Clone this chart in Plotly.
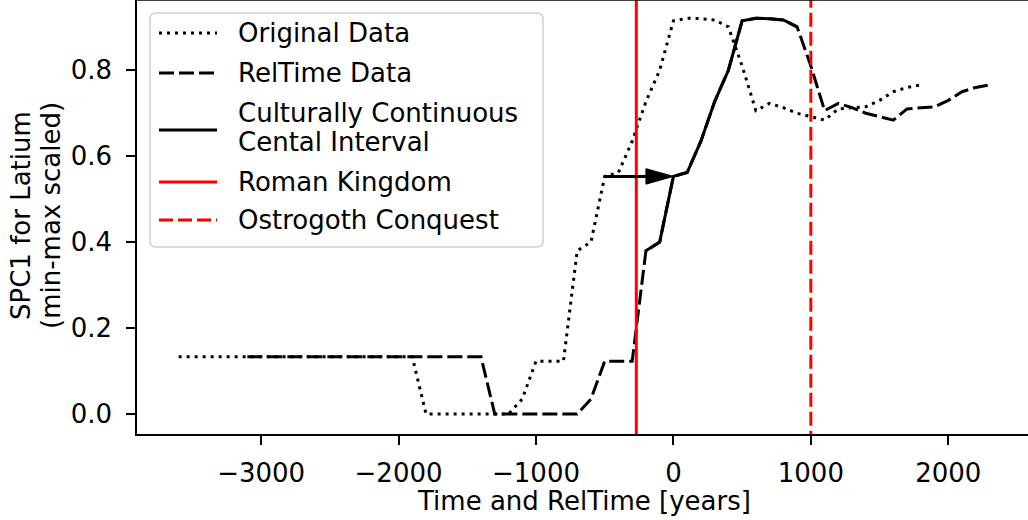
import plotly.graph_objects as go

# ---- data ----
orig_time = [-3600, -3500, -3400, -3300, -3200, -3100, -3000, -2900, -2800, -2700,
             -2600, -2500, -2400, -2300, -2200, -2100, -2000, -1900, -1800, -1700,
             -1600, -1500, -1400, -1300, -1200, -1100, -1000, -900, -800, -700,
             -600, -500, -400, -300, -200, -100, 0, 100, 200, 300,
             400, 500, 600, 700, 800, 900, 1000, 1100, 1200, 1300,
             1400, 1500, 1600, 1700, 1800]
spc1 = [0.133, 0.133, 0.133, 0.133, 0.133, 0.133, 0.133, 0.133, 0.133, 0.133,
        0.133, 0.133, 0.133, 0.133, 0.133, 0.133, 0.133, 0.133, 0.0, 0.0,
        0.0, 0.0, 0.0, 0.0, 0.0, 0.035, 0.123, 0.123, 0.123, 0.38,
        0.40, 0.553, 0.562, 0.635, 0.727, 0.80, 0.915, 0.921, 0.92, 0.917,
        0.901, 0.81, 0.706, 0.723, 0.713, 0.70, 0.692, 0.684, 0.71, 0.712,
        0.715, 0.73, 0.75, 0.76, 0.766]
rel_shift = 500
rel_time = [t + rel_shift for t in orig_time]
central_start, central_end = -200, 900
central_x = [t for t in rel_time if central_start <= t <= central_end]
central_y = [v for t, v in zip(rel_time, spc1) if central_start <= t <= central_end]

roman_kingdom = -270
ostrogoth_conquest = 1000

arrow_from_x = -500
arrow_to_x = 0
arrow_y = 0.553

x_ticks = [-3000, -2000, -1000, 0, 1000, 2000]
y_ticks = [0.0, 0.2, 0.4, 0.6, 0.8]

legend_labels = ["Original Data", "RelTime Data",
                 ["Culturally Continuous", "Cental Interval"],
                 "Roman Kingdom", "Ostrogoth Conquest"]

FONT = "DejaVu Sans"
FS = 26
LW = 3
DOT = "3px,5px"
DASH = "15px,5px"
RDASH = "14px,5px"

W, H = 1028, 520
ML, MR, MT, MB = 137, 0, 0, 86
PW, PH = W - ML - MR, H - MT - MB


def px(x):  # pixel x -> paper x
    return (x - ML) / PW


def py(y):  # pixel y -> paper y
    return 1 - (y - MT) / PH


fig = go.Figure()

fig.add_trace(go.Scatter(x=rel_time, y=spc1, mode="lines", name="RelTime Data",
                         line=dict(color="black", width=LW, dash=DASH), showlegend=False))
fig.add_trace(go.Scatter(x=orig_time, y=spc1, mode="lines", name="Original Data",
                         line=dict(color="black", width=LW, dash=DOT), showlegend=False))
fig.add_trace(go.Scatter(x=central_x, y=central_y, mode="lines",
                         name="Culturally Continuous Cental Interval",
                         line=dict(color="black", width=LW), showlegend=False))
fig.add_trace(go.Scatter(x=[roman_kingdom, roman_kingdom], y=[-1, 2], mode="lines",
                         name="Roman Kingdom", line=dict(color="red", width=LW),
                         showlegend=False))
fig.add_trace(go.Scatter(x=[ostrogoth_conquest, ostrogoth_conquest], y=[-1, 2], mode="lines",
                         name="Ostrogoth Conquest",
                         line=dict(color="red", width=LW, dash=RDASH), showlegend=False))

# arrow (shaft + filled head)
head_len = 200
head_half = 0.018
fig.add_trace(go.Scatter(x=[arrow_from_x, arrow_to_x - head_len], y=[arrow_y, arrow_y],
                         mode="lines", line=dict(color="black", width=LW),
                         showlegend=False, hoverinfo="skip"))
fig.add_trace(go.Scatter(x=[arrow_to_x - head_len, arrow_to_x, arrow_to_x - head_len, arrow_to_x - head_len],
                         y=[arrow_y + head_half, arrow_y, arrow_y - head_half, arrow_y + head_half],
                         mode="lines", fill="toself", fillcolor="black",
                         line=dict(color="black", width=1),
                         showlegend=False, hoverinfo="skip"))

axis_common = dict(showgrid=False, zeroline=False, showline=True, linecolor="black",
                   linewidth=1.5, ticks="outside", ticklen=9, tickwidth=1.5,
                   tickcolor="black", automargin=False,
                   tickfont=dict(family=FONT, size=FS, color="black"))

fig.update_xaxes(range=[-3903, 2580], tickvals=x_ticks, ticklabelstandoff=6, **axis_common)
fig.update_yaxes(range=[-0.0465, 0.9635], tickvals=y_ticks, tickformat=".1f",
                 ticklabelstandoff=9, **axis_common)

# top spine
fig.add_shape(type="line", xref="paper", yref="paper", x0=0, x1=1, y0=1, y1=1,
              line=dict(color="black", width=1.5))

annotations = []
tfont = dict(family=FONT, size=FS, color="black")
# axis titles
annotations.append(dict(text="Time and RelTime [years]", xref="paper", yref="paper",
                        x=px(584), y=py(501), xanchor="center", yanchor="middle",
                        showarrow=False, font=tfont))
annotations.append(dict(text="SPC1 for Latium", xref="paper", yref="paper",
                        x=px(21), y=py(216), xanchor="center", yanchor="middle",
                        textangle=-90, showarrow=False, font=tfont))
annotations.append(dict(text="(min-max scaled)", xref="paper", yref="paper",
                        x=px(51), y=py(216), xanchor="center", yanchor="middle",
                        textangle=-90, showarrow=False, font=tfont))

# legend box (rounded)
bx0, bx1, by0, by1, r = px(150), px(543), py(13), py(247), 6
rx, ry = r / PW, r / PH
box_path = (f"M{bx0 + rx},{by0} L{bx1 - rx},{by0} Q{bx1},{by0} {bx1},{by0 - ry} "
            f"L{bx1},{by1 + ry} Q{bx1},{by1} {bx1 - rx},{by1} "
            f"L{bx0 + rx},{by1} Q{bx0},{by1} {bx0},{by1 + ry} "
            f"L{bx0},{by0 - ry} Q{bx0},{by0} {bx0 + rx},{by0} Z")
fig.add_shape(type="path", xref="paper", yref="paper", path=box_path,
              fillcolor="rgba(255,255,255,0.8)", line=dict(color="#d0d0d0", width=1.5),
              layer="above")

sample_styles = [dict(color="black", dash=DOT), dict(color="black", dash=DASH),
                 dict(color="black", dash="solid"), dict(color="red", dash="solid"),
                 dict(color="red", dash=RDASH)]
sample_y = [33, 73, 130, 182, 220]
text_y = [[33], [73], [113, 142], [182], [220]]
for lab, st, sy, ty in zip(legend_labels, sample_styles, sample_y, text_y):
    fig.add_shape(type="line", xref="paper", yref="paper", x0=px(159), x1=px(217),
                  y0=py(sy), y1=py(sy), line=dict(width=LW, **st), layer="above")
    lines = lab if isinstance(lab, list) else [lab]
    for ln, yy in zip(lines, ty):
        annotations.append(dict(text=ln, xref="paper", yref="paper", x=px(236), y=py(yy),
                                xanchor="left", yanchor="middle", showarrow=False,
                                font=tfont))

fig.update_layout(
    width=W, height=H,
    margin=dict(l=ML, r=MR, t=MT, b=MB, autoexpand=False),
    plot_bgcolor="white", paper_bgcolor="white",
    font=dict(family=FONT, size=FS, color="black"),
    showlegend=False,
    annotations=annotations,
)

fig.write_html("out.html", config={"displayModeBar": False},
               post_script="document.body.style.margin='0';")
